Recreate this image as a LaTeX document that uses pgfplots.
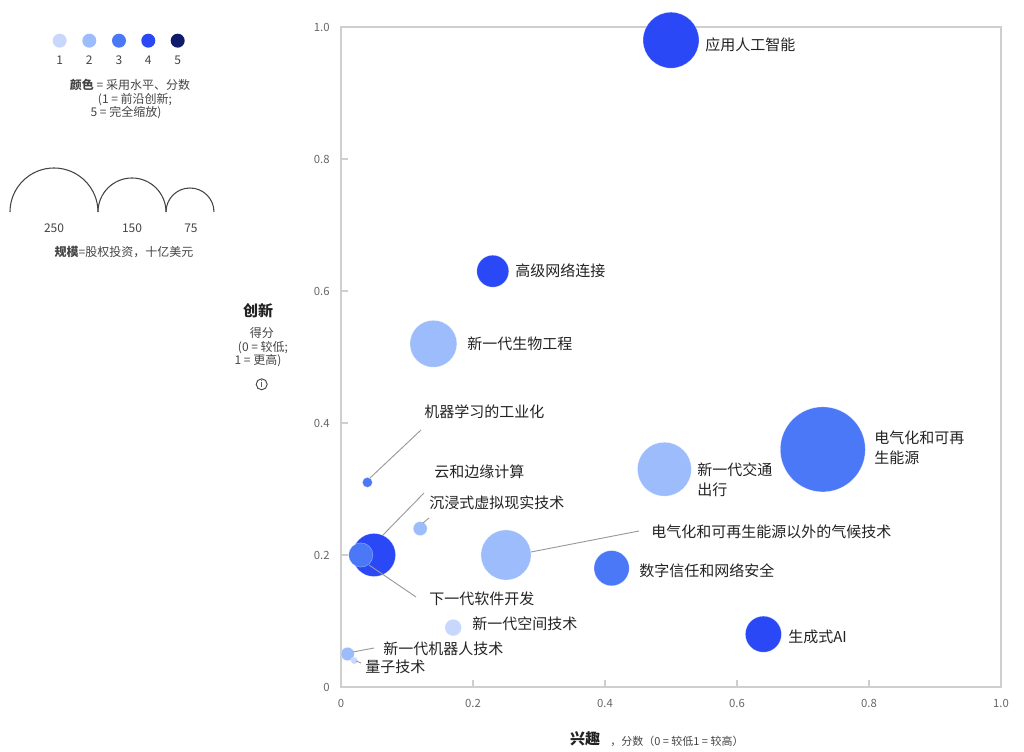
\documentclass[border=0pt]{standalone}
\usepackage{fontspec}
\setmainfont{Noto Sans CJK SC}
\usepackage{pgfplots}
\pgfplotsset{compat=1.18}
\usepackage{pgfplotstable}

\definecolor{lvA}{RGB}{200,216,252}
\definecolor{lvB}{RGB}{157,188,251}
\definecolor{lvC}{RGB}{74,120,246}
\definecolor{lvD}{RGB}{43,72,246}
\definecolor{lvE}{RGB}{16,28,106}
\definecolor{axgray}{HTML}{CFCFCF}
\definecolor{tickgray}{HTML}{666666}
\definecolor{lbl}{HTML}{222222}
\definecolor{lead}{HTML}{9A9A9A}
\definecolor{leg}{HTML}{444444}

\newcommand\lblfont{\fontsize{11.25}{13.5}\selectfont}
\newcommand\legfont{\fontsize{9}{11}\selectfont}
\newcommand\tickfont{\fontsize{8.5}{10}\selectfont}

% x = interest, y = innovation, size = equity investment (bn USD), level = adoption
\pgfplotstableread{
x     y     size  level
0.05  0.20  60    4
0.50  0.98  101   4
0.23  0.63  33    4
0.64  0.08  42    4
0.03  0.20  19    3
0.04  0.31  3.2   3
0.41  0.18  40    3
0.73  0.36  233   3
0.14  0.52  71    2
0.12  0.24  6.3   2
0.25  0.20  81    2
0.01  0.05  5.8   2
0.49  0.33  94    2
0.17  0.09  9     1
0.02  0.04  1.6   1
}\techdata

\begin{document}
\begin{tikzpicture}
\begin{axis}[
  at={(0,0)}, anchor=south west,
  scale only axis, width=495pt, height=495pt,
  xmin=0, xmax=1, ymin=0, ymax=1,
  clip=false,
  axis line style={draw=axgray, line width=1.1pt},
  xtick={0,0.2,0.4,0.6,0.8,1}, ytick={0,0.2,0.4,0.6,0.8,1},
  xticklabels={0,0.2,0.4,0.6,0.8,1.0},
  yticklabels={0,0.2,0.4,0.6,0.8,1.0},
  xtick pos=lower, ytick pos=left,
  tick align=inside, major tick length=5pt,
  tick style={draw=axgray, line width=0.8pt},
  tick label style={font=\tickfont, text=tickgray},
  xticklabel style={yshift=-6pt},
  yticklabel style={xshift=-5pt},
  point meta min=1, point meta max=5,
  colormap={lv}{rgb255=(200,216,252) rgb255=(157,188,251) rgb255=(74,120,246) rgb255=(43,72,246) rgb255=(16,28,106)},
]
\addplot[scatter, only marks, mark=*,
  point meta=\thisrow{level},
  scatter/use mapped color={draw=white, draw opacity=0.5, line width=0.3pt, fill=mapped color},
  visualization depends on={2.087*sqrt(\thisrow{size})\as\bubrad},
  scatter/@pre marker code/.append style={/tikz/mark size=\bubrad}]
  table[x=x, y=y]{\techdata};
\end{axis}

\begin{scope}[x=0.75pt, y=-0.75pt, xshift=-255.75pt, yshift=515.25pt]
  % leader lines
  \begin{scope}[draw=lead, line width=0.7pt]
    \draw (370,478) -- (421,430);
    \draw (383,535) -- (424,493);
    \draw (423,523) -- (429,518);
    \draw (369,565) -- (416,597);
    \draw (531,552) -- (639,531);
    \draw (353,652) -- (374,648);
    \draw (356,661) -- (361,663);
  \end{scope}
  % point labels
  \begin{scope}[every node/.style={anchor=west, inner sep=0pt, font=\lblfont, text=lbl}]
    \node at (705,45) {应用人工智能};
    \node at (515,271) {高级网络连接};
    \node at (467,344) {新一代生物工程};
    \node at (424,412) {机器学习的工业化};
    \node at (434,472) {云和边缘计算};
    \node at (429,503) {沉浸式虚拟现实技术};
    \node at (651,532) {电气化和可再生能源以外的气候技术};
    \node at (639,571) {数字信任和网络安全};
    \node at (429,599) {下一代软件开发};
    \node at (472,624) {新一代空间技术};
    \node at (383,649) {新一代机器人技术};
    \node at (365,667) {量子技术};
    \node at (697,470) {新一代交通};
    \node at (697,490) {出行};
    \node at (874,438) {电气化和可再};
    \node at (874,458) {生能源};
    \node at (788,637) {生成式AI};
  \end{scope}
  % colour legend
  \fill[lvA] (59.7,40.7) circle (7);
  \fill[lvB] (89.3,40.7) circle (7);
  \fill[lvC] (119,40.7) circle (7);
  \fill[lvD] (148.3,40.7) circle (7);
  \fill[lvE] (177.7,40.7) circle (7);
  \begin{scope}[every node/.style={inner sep=0pt, font=\legfont, text=leg}]
    \node at (59.7,60) {1};
    \node at (89.3,60) {2};
    \node at (119,60) {3};
    \node at (148.3,60) {4};
    \node at (177.7,60) {5};
    \node at (130,85) {\textbf{颜色} = 采用水平、分数};
    \node at (135,100) {(1 = 前沿创新;};
    \node at (126,113) {5 = 完全缩放)};
    \node at (54,228) {250};
    \node at (132,228) {150};
    \node at (191,228) {75};
    \node at (124,252) {\textbf{规模}=股权投资，十亿美元};
    \node at (262,333) {得分};
    \node at (263,348) {(0 = 较低;};
    \node at (258,361) {1 = 更高)};
    \node[font=\fontsize{7}{8}\selectfont] at (261.7,384.3) {i};
  \end{scope}
  \draw[leg, line width=0.7pt] (261.7,384.3) circle (5.5);
  % size legend
  \begin{scope}[draw=leg, line width=0.8pt]
    \draw (10,212) arc[start angle=180, end angle=360, radius=44];
    \draw (98,212) arc[start angle=180, end angle=360, radius=34];
    \draw (166,212) arc[start angle=180, end angle=360, radius=24];
  \end{scope}
  % axis titles
  \node[inner sep=0pt, font=\fontsize{11.25}{13.5}\selectfont\bfseries, text=lbl] at (258,311) {创新};
  \node[inner sep=0pt, font=\fontsize{11.25}{13.5}\selectfont\bfseries, text=lbl] at (585,739) {兴趣};
  \node[anchor=west, inner sep=0pt, font=\fontsize{8.25}{10}\selectfont, text=leg] at (610,741) {，分数（0 = 较低1 = 较高）};
  \pgfresetboundingbox
  \path[use as bounding box] (0,0) rectangle (1024,752);
\end{scope}
\end{tikzpicture}
\end{document}
